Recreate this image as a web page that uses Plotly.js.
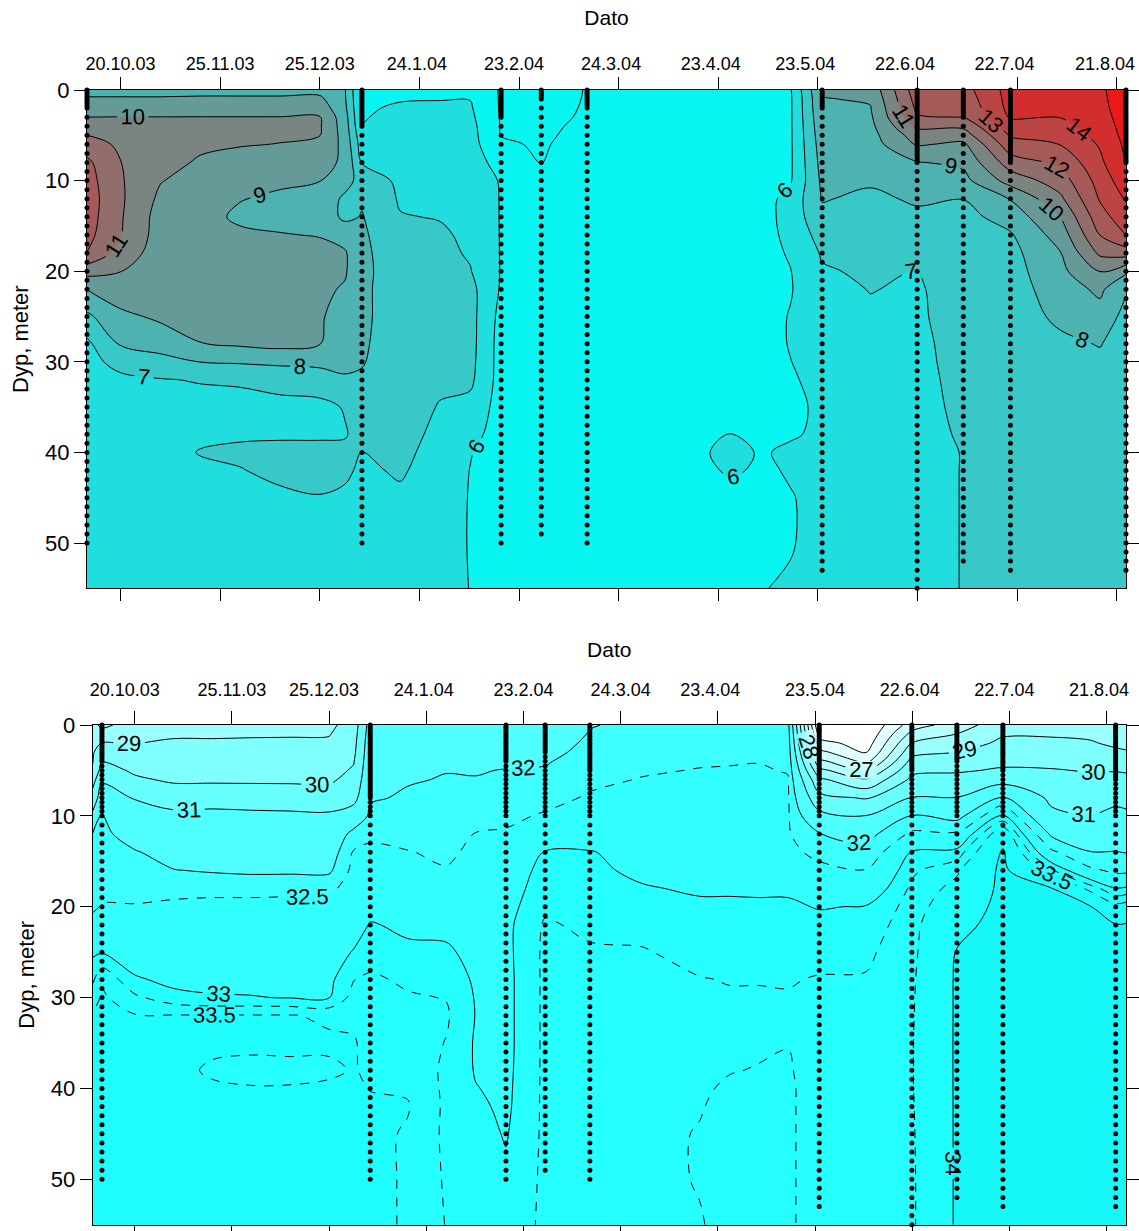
<!DOCTYPE html>
<html><head><meta charset="utf-8">
<script src="https://cdn.plot.ly/plotly-3.0.1.min.js"></script>
<style>html,body{margin:0;padding:0;background:#fff}#chart{width:1139px;height:1231px}</style>
</head><body><div id="chart"></div>
<script>
// ---------- axes / stations ----------
const tickDays = [0, 30, 60, 90, 120, 150, 180, 210, 240, 270, 300];
const tickLabels = ['20.10.03','25.11.03','25.12.03','24.1.04','23.2.04','24.3.04','23.4.04','23.5.04','22.6.04','22.7.04','21.8.04'];
const depthTicks = [0, 10, 20, 30, 40, 50];
const stationDays = [-10.1, 72.7, 114.6, 126.7, 140.5, 211.3, 239.9, 253.8, 268, 302.8];
const stationMaxDepth = [50, 50, 50, 49, 50, 53, 55, 52.2, 53.6, 53.8];
const denseTop = [2, 4, 3, 1, 2, 2, 8, 3, 8, 8];
const denseBottom = [4, 8, 4, 3, 5, 6, 5, 4, 5, 6];

// ---------- grid (days, depths) ----------
const gridDays = [-10.1, 0, 12, 24, 36, 48, 60, 67.6, 72.7, 84.2, 96.2, 105.3, 114.6, 126.7, 140.5, 156.5, 174.5, 183.6, 192.6, 201.7, 211.3, 225.8, 239.9, 253.8, 268, 283, 295, 302.8];
const salEdgeLeft = -13, salEdgeRight = 306;
const depths = [0,1,2,3,4,5,6,8,10,12,14,16,18,20,22,25,28,30,32,35,38,40,42,45,50,55];

// ---------- temperature profiles (deg C), one per grid column ----------
const t_c0  = [8.7,9.1,9.5,10.0,10.5,11.0,11.5,12.2,12.4,12.5,12.45,12.3,11.98,10.4,9.02,7.8,6.8,6.7,6.6,6.6,6.6,6.6,6.6,6.6,6.6,6.6];
const t_c1  = [8.7,9.1,9.5,10.02,10.3,10.6,10.8,11.02,11.1,11.15,11.1,11.05,10.6,10.02,9.5,8.8,8.1,7.3,6.8,6.6,6.6,6.6,6.6,6.6,6.6,6.6];
const t_c2  = [8.7,9.1,9.5,10.02,10.25,10.35,10.4,10.3,10.05,9.8,9.6,9.55,9.5,9.5,9.4,9.15,8.5,7.6,6.95,6.6,6.6,6.6,6.6,6.6,6.6,6.6];
const t_c3  = [8.7,9.15,9.55,10.02,10.2,10.2,10.15,9.9,9.6,9.4,9.4,9.5,9.5,9.5,9.5,9.3,8.98,8.02,7.05,6.7,6.8,7.05,6.8,6.6,6.6,6.6];
const t_c4  = [8.7,9.15,9.55,10.02,10.15,10.15,10.05,9.7,9.5,9.05,8.8,9.2,9.45,9.5,9.5,9.4,9.15,8.1,7.15,6.6,6.85,7.2,6.95,6.6,6.6,6.6];
const t_c5  = [8.7,9.15,9.6,10.02,10.1,10.1,9.98,9.6,9.2,8.8,8.7,9.05,9.4,9.5,9.5,9.45,9.3,8.2,7.3,6.75,6.85,7.3,7.25,6.8,6.6,6.6];
const t_c6  = [8.7,9.2,9.6,10.05,10.1,10.02,9.8,9.4,9.02,8.7,8.6,8.95,9.3,9.3,9.2,9.05,9.02,8.3,7.4,6.8,6.85,7.3,7.35,6.95,6.6,6.6];
const t_c7  = [8.05,8.1,8.2,8.4,8.5,8.6,8.7,8.8,8.4,7.8,7.8,8.6,9.1,9.1,8.9,8.8,8.7,8.4,7.8,7.05,6.95,7.15,7.15,6.85,6.6,6.6];
const t_c8  = [5.8,5.85,5.9,5.95,6.02,6.3,6.5,6.95,7.6,7.9,8.05,8.15,8.2,8.2,8.15,8.15,8.1,8.05,7.9,7.55,7.25,6.98,6.85,6.7,6.6,6.6];
const t_c9  = [5.85,5.95,6.1,6.2,6.3,6.4,6.5,6.65,6.8,6.9,7.05,7.3,7.45,7.55,7.6,7.6,7.6,7.55,7.5,7.4,7.3,7.2,7.1,6.85,6.7,6.6];
const t_c10 = [5.85,5.98,6.1,6.2,6.3,6.4,6.45,6.6,6.7,6.8,6.95,7.15,7.25,7.3,7.35,7.4,7.35,7.3,7.15,6.95,6.8,6.7,6.6,6.5,6.4,6.35];
const t_c11 = [5.85,5.98,6.1,6.2,6.3,6.35,6.4,6.5,6.6,6.65,6.7,6.8,6.9,7.05,7.3,7.35,7.35,7.3,7.2,6.7,6.3,6.05,5.98,5.95,5.95,5.98];
const t_c12 = [4.9,4.9,4.9,4.92,4.95,4.98,5.1,5.6,5.92,5.95,5.95,5.95,5.95,5.95,5.9,5.7,5.6,5.6,5.6,5.6,5.6,5.55,5.55,5.55,5.55,5.55];
const t_c13 = [4.8,4.8,4.8,4.82,4.85,4.88,4.92,4.98,5.3,5.4,5.45,5.5,5.5,5.5,5.5,5.5,5.5,5.5,5.5,5.5,5.5,5.5,5.5,5.5,5.5,5.5];
const t_c14 = [5.02,5.03,5.05,5.08,5.15,5.22,5.3,5.4,5.45,5.5,5.5,5.5,5.5,5.5,5.5,5.5,5.5,5.5,5.5,5.5,5.5,5.55,5.55,5.55,5.55,5.55];
const t_c15 = [5.5,5.5,5.5,5.5,5.5,5.5,5.5,5.5,5.5,5.5,5.5,5.5,5.5,5.5,5.5,5.5,5.5,5.5,5.5,5.5,5.5,5.5,5.5,5.5,5.5,5.5];
const t_c16 = [5.5,5.5,5.5,5.5,5.5,5.5,5.5,5.5,5.5,5.5,5.5,5.5,5.5,5.5,5.5,5.5,5.5,5.5,5.5,5.5,5.6,5.9,5.8,5.6,5.5,5.5];
const t_c17 = [5.55,5.55,5.55,5.55,5.55,5.55,5.55,5.55,5.55,5.55,5.55,5.55,5.55,5.55,5.55,5.55,5.55,5.55,5.55,5.55,6.02,6.2,6.1,5.7,5.6,5.6];
const t_c18 = [5.6,5.6,5.6,5.6,5.6,5.6,5.6,5.6,5.6,5.6,5.6,5.6,5.6,5.6,5.6,5.6,5.6,5.6,5.6,5.7,5.85,5.95,5.9,5.85,5.85,5.98];
const t_c19 = [5.9,5.85,5.85,5.85,5.85,5.85,5.85,5.85,5.9,6.3,6.35,6.25,6.1,5.97,5.93,6.05,6.05,5.98,5.92,5.9,5.95,6.08,6.05,5.97,5.97,6.05];
const t_c20 = [9.1,8.95,8.9,8.8,8.7,8.6,8.5,8.35,8.2,8.05,7.8,7.4,7.1,6.9,6.8,6.6,6.5,6.4,6.2,6.08,6.08,6.12,6.15,6.15,6.15,6.1];
const t_c21 = [9.3,9.1,8.95,8.85,8.75,8.65,8.55,8.35,8.1,7.85,7.6,7.45,7.3,7.15,7.02,6.9,6.85,6.8,6.75,6.7,6.65,6.65,6.65,6.65,6.6,6.6];
const t_c22 = [12.6,12.4,12.2,11.9,11.2,10.5,10.1,8.95,8.6,8.1,7.85,7.6,7.3,6.98,6.92,6.9,6.85,6.85,6.85,6.85,6.85,6.8,6.8,6.8,6.8,6.8];
const t_c23 = [12.6,12.4,12.2,12.02,11.2,10.5,9.8,9.2,8.7,8.02,7.7,7.55,7.45,7.4,7.35,7.3,7.25,7.2,7.15,7.1,7.05,7.02,7.02,7.02,7.02,7.02];
const t_c24 = [14.4,14.35,14.3,14.1,13.6,13.1,12.6,11.5,10.4,9.05,8.4,7.9,7.7,7.6,7.55,7.5,7.45,7.4,7.38,7.35,7.3,7.3,7.25,7.25,7.2,7.2];
const t_c25 = [14.7,14.6,14.4,14.02,13.7,13.4,13.02,12.2,11.5,10.8,10.02,9.45,8.95,8.75,8.5,8.2,7.8,7.65,7.5,7.4,7.35,7.3,7.3,7.3,7.25,7.25];
const t_c26 = [14.85,14.8,14.75,14.65,14.5,14.3,14.1,13.8,13.4,13.1,12.6,12.02,11.2,10.02,9.2,8.6,8.05,7.8,7.6,7.5,7.4,7.4,7.35,7.35,7.3,7.3];
const t_c27 = [15.5,15.5,15.45,15.4,15.35,15.3,15.2,15.05,14.6,14.1,13.6,13.02,11.5,9.2,8.1,7.7,7.5,7.45,7.4,7.4,7.35,7.35,7.3,7.3,7.3,7.3];

// ---------- salinity profiles (psu) ----------
const s_eL  = [28.4,28.6,28.8,28.9,28.95,29.1,29.6,30.4,31.2,32.02,32.1,32.2,32.3,32.45,32.6,32.95,33.2,33.3,33.55,33.6,33.6,33.6,33.6,33.6,33.6,33.6];
const s_c0  = [27.7,28.6,29.02,29.5,29.95,30.4,30.85,31.5,32.02,32.15,32.25,32.35,32.42,32.52,32.7,32.98,33.45,33.55,33.6,33.6,33.6,33.6,33.6,33.6,33.6,33.6];
const s_c1  = [28.6,28.8,28.98,29.2,29.5,29.85,30.15,30.95,31.3,31.7,32.05,32.2,32.4,32.52,32.62,32.75,33.05,33.3,33.52,33.6,33.6,33.6,33.6,33.6,33.6,33.6];
const s_c2  = [28.7,28.9,29.1,29.3,29.5,29.65,29.85,30.6,31.2,31.5,31.75,32.02,32.35,32.6,32.7,32.8,32.9,33.1,33.52,33.58,33.6,33.6,33.6,33.6,33.6,33.6];
const s_c3  = [28.7,28.9,29.1,29.3,29.5,29.65,29.85,30.6,31.25,31.5,31.7,31.95,32.35,32.65,32.75,32.85,32.93,33.02,33.52,33.58,33.45,33.55,33.6,33.6,33.6,33.6];
const s_c4  = [28.7,28.92,29.12,29.3,29.5,29.65,29.85,30.55,31.2,31.45,31.65,31.9,32.35,32.65,32.75,32.85,32.93,33.01,33.52,33.58,33.4,33.52,33.58,33.6,33.6,33.6];
const s_c5  = [28.72,28.93,29.13,29.32,29.52,29.67,29.85,30.5,31.18,31.45,31.65,31.9,32.38,32.65,32.75,32.85,32.93,32.99,33.52,33.58,33.42,33.52,33.58,33.6,33.6,33.6];
const s_c6  = [28.75,28.95,29.15,29.35,29.55,29.7,29.85,30.45,31.15,31.45,31.65,31.9,32.4,32.65,32.75,32.85,32.93,32.99,33.45,33.55,33.45,33.55,33.6,33.6,33.6,33.6];
const s_c7  = [29.5,29.6,29.7,29.8,29.95,30.1,30.3,30.7,31.5,32.2,32.55,32.65,32.7,32.75,32.85,33.02,33.24,33.35,33.45,33.52,33.52,33.55,33.6,33.6,33.6,33.6];
const s_c8  = [31.4,31.5,31.6,31.65,31.7,31.75,31.8,31.95,32.1,32.4,32.6,32.7,32.8,32.9,33.02,33.1,33.3,33.35,33.4,33.42,33.45,33.49,33.55,33.58,33.6,33.6];
const s_c9  = [31.6,31.7,31.75,31.8,31.85,31.9,31.97,32.05,32.2,32.35,32.52,32.65,32.75,32.85,32.95,33.05,33.2,33.28,33.32,33.38,33.43,33.47,33.52,33.47,33.46,33.46];
const s_c10 = [31.8,31.85,31.9,31.93,31.96,31.99,32.02,32.1,32.2,32.3,32.42,32.53,32.68,32.82,32.93,33.04,33.15,33.24,33.28,33.24,33.2,33.2,33.2,33.2,33.22,33.24];
const s_c11 = [31.7,31.75,31.8,31.85,31.9,31.97,32.02,32.15,32.3,32.52,32.6,32.65,32.75,32.82,32.88,32.92,32.96,32.98,32.99,32.97,32.98,33.01,33.05,33.1,33.15,33.18];
const s_c12 = [31.5,31.6,31.7,31.8,31.9,32.02,32.1,32.2,32.4,32.55,32.7,32.8,32.85,32.9,32.93,32.93,32.92,32.92,32.92,32.92,32.93,32.94,32.95,32.98,33.05,33.1];
const s_c13 = [31.3,31.4,31.6,31.8,31.95,32.05,32.15,32.35,32.55,32.75,33.02,33.1,33.15,33.2,33.28,33.3,33.3,33.3,33.3,33.3,33.3,33.3,33.3,33.3,33.3,33.3];
const s_c14 = [31.95,32.05,32.15,32.2,32.25,32.3,32.4,32.55,32.65,32.8,33.02,33.05,33.1,33.15,33.2,33.28,33.3,33.3,33.3,33.3,33.3,33.3,33.3,33.3,33.3,33.3];
const s_c15 = [32.2,32.25,32.3,32.35,32.4,32.45,32.52,32.6,32.7,32.8,32.87,32.95,33.02,33.1,33.17,33.27,33.3,33.3,33.3,33.3,33.3,33.3,33.3,33.3,33.3,33.3];
const s_c16 = [32.25,32.3,32.35,32.4,32.45,32.52,32.55,32.65,32.75,32.82,32.88,32.93,32.97,33.04,33.1,33.17,33.26,33.28,33.3,33.3,33.3,33.28,33.26,33.24,33.24,33.26];
const s_c17 = [32.3,32.35,32.4,32.45,32.48,32.52,32.56,32.65,32.72,32.8,32.86,32.92,32.97,33.04,33.1,33.18,33.24,33.27,33.28,33.28,33.26,33.22,33.2,33.2,33.22,33.2];
const s_c18 = [32.3,32.35,32.4,32.45,32.49,32.53,32.58,32.65,32.72,32.8,32.86,32.92,32.97,33.03,33.1,33.18,33.24,33.27,33.28,33.28,33.24,33.2,33.2,33.2,33.2,33.2];
const s_c19 = [32.2,32.3,32.35,32.4,32.45,32.48,32.52,32.55,32.55,32.55,32.6,32.7,32.95,33.05,33.1,33.18,33.24,33.26,33.27,33.26,33.22,33.2,33.2,33.2,33.2,33.2];
const s_c20 = [24.0,24.6,25.4,26.3,27.3,28.3,29.2,30.3,31.3,32.02,32.4,32.6,32.8,32.98,33.1,33.2,33.26,33.3,33.3,33.35,33.4,33.4,33.4,33.4,33.4,33.4];
const s_c21 = [24.0,24.2,24.5,24.9,25.7,26.9,28.1,29.9,31.02,31.8,32.2,32.52,32.75,33.02,33.1,33.2,33.27,33.3,33.3,33.35,33.4,33.4,33.4,33.4,33.4,33.4];
const s_c22 = [26.5,27.3,28.02,28.7,29.3,29.8,30.2,31.02,32.02,32.6,33.02,33.2,33.3,33.35,33.4,33.42,33.45,33.46,33.47,33.48,33.48,33.48,33.47,33.46,33.45,33.45];
const s_c23 = [27.5,28.02,28.5,29.02,29.48,29.9,30.3,31.02,31.8,32.6,33.1,33.45,33.6,33.75,33.9,34.02,34.05,34.05,34.05,34.05,34.05,34.05,34.05,34.05,34.05,34.05];
const s_c24 = [28.6,28.9,29.2,29.48,29.8,30.1,30.6,32.1,33.02,33.8,34.05,34.1,34.1,34.12,34.12,34.12,34.13,34.13,34.14,34.14,34.15,34.15,34.15,34.15,34.15,34.15];
const s_c25 = [28.6,28.9,29.2,29.52,29.8,30.05,30.3,30.8,31.2,31.9,32.6,33.3,34.02,34.1,34.12,34.12,34.13,34.13,34.14,34.14,34.15,34.15,34.15,34.15,34.15,34.15];
const s_c26 = [28.5,28.8,29.1,29.4,29.7,29.95,30.2,30.6,31.02,31.5,32.02,32.6,33.4,34.02,34.1,34.12,34.13,34.13,34.14,34.14,34.15,34.15,34.15,34.15,34.15,34.15];
const s_c27 = [28.2,28.5,28.8,29.2,29.6,29.95,30.3,30.8,31.2,31.6,32.02,32.4,33.02,33.6,34.02,34.1,34.1,34.12,34.13,34.14,34.15,34.15,34.15,34.15,34.15,34.15];
const s_eR  = [28.0,28.3,28.7,29.1,29.55,29.9,30.25,30.75,31.15,31.55,31.98,32.4,33.05,33.65,34.03,34.1,34.1,34.12,34.13,34.14,34.15,34.15,34.15,34.15,34.15,34.15];

// ---------- build grids ----------
const tempCols = [t_c0,t_c1,t_c2,t_c3,t_c4,t_c5,t_c6,t_c7,t_c8,t_c9,t_c10,t_c11,t_c12,t_c13,t_c14,t_c15,t_c16,t_c17,t_c18,t_c19,t_c20,t_c21,t_c22,t_c23,t_c24,t_c25,t_c26,t_c27];
const salCols = [s_eL,s_c0,s_c1,s_c2,s_c3,s_c4,s_c5,s_c6,s_c7,s_c8,s_c9,s_c10,s_c11,s_c12,s_c13,s_c14,s_c15,s_c16,s_c17,s_c18,s_c19,s_c20,s_c21,s_c22,s_c23,s_c24,s_c25,s_c26,s_c27,s_eR];
const salDays = [salEdgeLeft].concat(gridDays, [salEdgeRight]);
const zTemp = depths.map((d, i) => tempCols.map(c => c[i]));
const zSal = depths.map((d, i) => salCols.map(c => c[i]));

// ---------- colours ----------
const tempBandColors = ['#08F5F2','#08F5F2','#20DEDE','#38C8C8','#4EB2B0','#649B98','#7A8480','#916E6C','#A55A58','#BC4442','#D22E2D','#EB1919'];
const tempScale = tempBandColors.map((c, j) => [j / (tempBandColors.length - 1), c]);
const salBandLower = [25, 26, 27, 28, 29, 30, 31, 32, 32.5, 33, 33.5, 34];
const salBandCol   = ['#E4FFFF','#CDFFFF','#B6FFFF','#9BFFFF','#80FFFF','#68FFFF','#50FFFF','#3EFFFF','#32FFFF','#26FFFF','#1EFCFC','#16F8F8'];
const salStart = 25, salEnd = 34, salStep = 0.5;
const nSal = Math.round((salEnd - salStart) / salStep) + 1;
const salScale = [];
for (let j = 0; j <= nSal; j++) {
  let col = '#FFFFFF';
  if (j > 0) {
    const lower = salStart + (j - 1) * salStep;
    for (let k = 0; k < salBandLower.length; k++) if (lower >= salBandLower[k] - 1e-9) col = salBandCol[k];
  }
  salScale.push([j / nSal, col]);
}

// ---------- tick labels: nudges (nbsp shift text left); last label drawn as annotation ----------
const topNudge = [0, 0, 0, 1, 2, 3, 3, 5, 5, 5];
const botNudge = [4, 0, 2, 1, 0, 0, 3, 0, 1, 2];
const nb = n => '\u00A0'.repeat(n);
const lastIdx = tickLabels.length - 1;
const topText = tickLabels.map((t, i) => i === lastIdx ? '' : t + nb(topNudge[i]));
const botText = tickLabels.map((t, i) => i === lastIdx ? '' : t + nb(botNudge[i]));

// ---------- station dots ----------
function dots(dense, withHalf) {
  const xs = [], ys = [];
  stationDays.forEach((sd, i) => {
    const maxD = stationMaxDepth[i];
    let d = 0;
    while (d <= maxD + 1e-6) {
      xs.push(sd); ys.push(d);
      if (d < dense[i]) d += 0.25;
      else if (withHalf && d < 10) d += 0.5;
      else d += 1;
    }
  });
  return {xs, ys};
}
const dTop = dots(denseTop, false);
const dBot = dots(denseBottom, true);

const FONT = 'Liberation Sans, Arial, Helvetica, sans-serif';
const labFont = {family: FONT, size: 22, color: '#000'};

const traces = [
  {type: 'contour', x: gridDays, y: depths, z: zTemp, xaxis: 'x', yaxis: 'y',
   autocontour: false, contours: {start: 5, end: 15, size: 1, coloring: 'fill', showlines: false},
   colorscale: tempScale, showscale: false, line: {width: 0}, hoverinfo: 'skip'},
  {type: 'contour', x: gridDays, y: depths, z: zTemp, xaxis: 'x', yaxis: 'y',
   autocontour: false, contours: {start: 5, end: 5, size: 1, coloring: 'none', showlabels: false},
   line: {color: '#000', width: 1, smoothing: 1}, showscale: false, hoverinfo: 'skip'},
  {type: 'contour', x: gridDays, y: depths, z: zTemp, xaxis: 'x', yaxis: 'y',
   autocontour: false, contours: {start: 6, end: 15, size: 1, coloring: 'none', showlabels: true, labelfont: labFont},
   line: {color: '#000', width: 1, smoothing: 1}, showscale: false, hoverinfo: 'skip'},
  {type: 'scatter', mode: 'markers', x: dTop.xs, y: dTop.ys, xaxis: 'x', yaxis: 'y',
   marker: {color: '#000', size: 5}, cliponaxis: false, hoverinfo: 'skip'},

  {type: 'contour', x: salDays, y: depths, z: zSal, xaxis: 'x2', yaxis: 'y2',
   autocontour: false, contours: {start: salStart, end: salEnd, size: salStep, coloring: 'fill', showlines: false},
   colorscale: salScale, showscale: false, line: {width: 0}, hoverinfo: 'skip'},
  {type: 'contour', x: salDays, y: depths, z: zSal, xaxis: 'x2', yaxis: 'y2',
   autocontour: false, contours: {start: 25, end: 34, size: 1, coloring: 'none', showlabels: true, labelfont: labFont},
   line: {color: '#000', width: 1, smoothing: 1}, showscale: false, hoverinfo: 'skip'},
  {type: 'contour', x: salDays, y: depths, z: zSal, xaxis: 'x2', yaxis: 'y2',
   autocontour: false, contours: {start: 32.5, end: 32.5, size: 1, coloring: 'none', showlabels: true, labelfont: labFont},
   line: {color: '#000', width: 1, dash: 'dash', smoothing: 1}, showscale: false, hoverinfo: 'skip'},
  {type: 'contour', x: salDays, y: depths, z: zSal, xaxis: 'x2', yaxis: 'y2',
   autocontour: false, contours: {start: 33.25, end: 33.25, size: 1, coloring: 'none', showlabels: false},
   line: {color: '#000', width: 1, dash: 'dash', smoothing: 1}, showscale: false, hoverinfo: 'skip'},
  {type: 'contour', x: salDays, y: depths, z: zSal, xaxis: 'x2', yaxis: 'y2',
   autocontour: false, contours: {start: 33.5, end: 33.5, size: 1, coloring: 'none', showlabels: true, labelfont: labFont},
   line: {color: '#000', width: 1, dash: 'dash', smoothing: 1}, showscale: false, hoverinfo: 'skip'},
  {type: 'scatter', mode: 'markers', x: dBot.xs, y: dBot.ys, xaxis: 'x2', yaxis: 'y2',
   marker: {color: '#000', size: 5}, cliponaxis: false, hoverinfo: 'skip'}
];

const W = 1139, H = 1231;
function xAx(dom, rng, anchor, txt, tlen, lstand, tstand) {
  return {domain: dom, range: rng, anchor: anchor, side: 'top', tickmode: 'array', tickvals: tickDays, ticktext: txt,
    ticks: 'outside', ticklen: tlen, tickcolor: '#000', tickwidth: 1, tickfont: {size: 18, family: FONT, color: '#000'},
    ticklabelstandoff: lstand,
    showline: true, linecolor: '#000', linewidth: 1, mirror: 'ticks', showgrid: false, zeroline: false,
    title: {text: 'Dato', font: {size: 21, family: FONT, color: '#000'}, standoff: tstand}};
}
function yAx(dom, anchor) {
  return {domain: dom, range: [55, 0], anchor: anchor, tickmode: 'array', tickvals: depthTicks,
    ticks: 'outside', ticklen: 12, tickcolor: '#000', tickwidth: 1, tickfont: {size: 22, family: FONT, color: '#000'},
    showline: true, linecolor: '#000', linewidth: 1, mirror: 'ticks', showgrid: false, zeroline: false,
    title: {text: 'Dyp, meter', font: {size: 22, family: FONT, color: '#000'}, standoff: 10}};
}
const lastLabelFont = {size: 18, family: FONT, color: '#000'};
const layout = {
  width: W, height: H, margin: {l: 0, r: 0, t: 0, b: 0},
  paper_bgcolor: '#fff', plot_bgcolor: '#fff', showlegend: false,
  font: {family: FONT, color: '#000'},
  xaxis: xAx([87 / W, 1126 / W], [-10.1, 302.8], 'y', topText, 12, 0, 22),
  yaxis: yAx([1 - 588.3 / H, 1 - 90 / H], 'x'),
  xaxis2: xAx([92.6 / W, 1126 / W], [-13, 306], 'y2', botText, 13, 8, 16),
  yaxis2: yAx([1 - 1224.7 / H, 1 - 725 / H], 'x2'),
  annotations: [
    {text: tickLabels[lastIdx], xref: 'paper', yref: 'paper', x: 1104.6 / W, y: 1 - 64 / H,
     xanchor: 'center', yanchor: 'middle', showarrow: false, font: lastLabelFont},
    {text: tickLabels[lastIdx], xref: 'paper', yref: 'paper', x: 1098.6 / W, y: 1 - 689.5 / H,
     xanchor: 'center', yanchor: 'middle', showarrow: false, font: lastLabelFont}
  ]
};
Plotly.newPlot('chart', traces, layout, {staticPlot: true, displayModeBar: false});
</script>
</body></html>
